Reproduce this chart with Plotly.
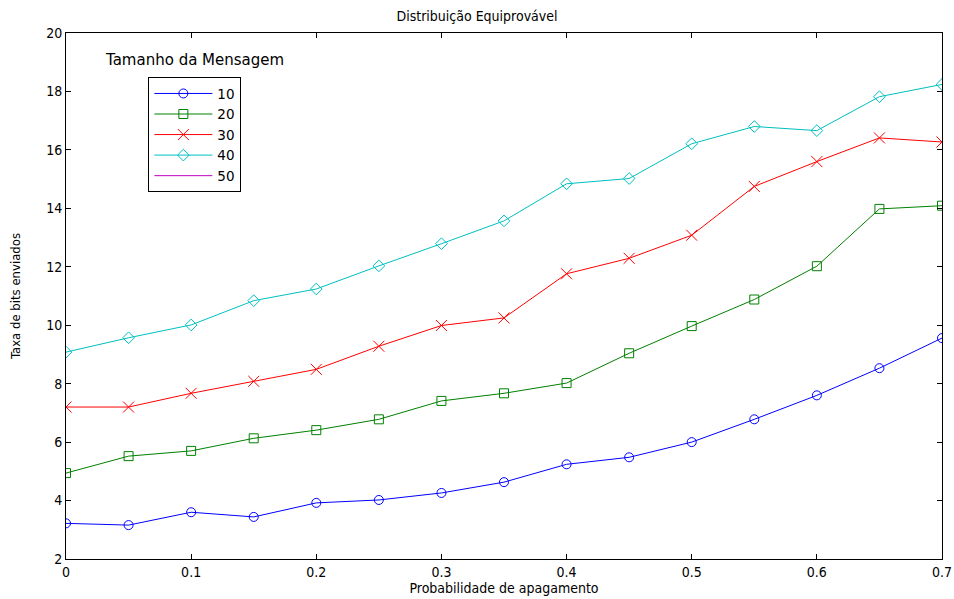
import plotly.graph_objects as go

# Probabilidade de apagamento (eixo x)
prob = [0.0, 0.05, 0.1, 0.15, 0.2, 0.25, 0.3, 0.35, 0.4, 0.45, 0.5, 0.55, 0.6, 0.65, 0.7]

# Taxa de bits enviados por tamanho de mensagem
taxa_10 = [3.22, 3.16, 3.60, 3.44, 3.92, 4.02, 4.26, 4.63, 5.24, 5.48, 6.00, 6.78, 7.60, 8.53, 9.56]
taxa_20 = [4.94, 5.52, 5.70, 6.13, 6.41, 6.78, 7.41, 7.67, 8.02, 9.04, 9.97, 10.88, 12.02, 13.98, 14.09]
taxa_30 = [7.20, 7.20, 7.67, 8.08, 8.49, 9.28, 9.99, 10.25, 11.76, 12.29, 13.08, 14.75, 15.60, 16.41, 16.27]
taxa_40 = [9.08, 9.57, 10.01, 10.84, 11.24, 12.03, 12.79, 13.57, 14.84, 15.02, 16.21, 16.80, 16.66, 17.82, 18.24]

mensagens = ["10", "20", "30", "40", "50"]
cores = ["#0000FF", "#008000", "#FF0000", "#00BFBF", "#BF00BF"]
simbolos = ["circle-open", "square-open", "x-thin-open", "diamond-open", None]
tamanhos = [9, 9, 11, 9, 0]
series = [taxa_10, taxa_20, taxa_30, taxa_40, None]

fig = go.Figure()
for nome, cor, simb, tam, ys in zip(mensagens, cores, simbolos, tamanhos, series):
    if ys is None:
        fig.add_trace(go.Scatter(x=[None], y=[None], mode="lines", name=nome,
                                 line=dict(color=cor, width=1)))
    else:
        fig.add_trace(go.Scatter(
            x=prob, y=ys, mode="lines+markers", name=nome,
            line=dict(color=cor, width=1),
            marker=dict(symbol=simb, size=tam, color=cor, line=dict(color=cor, width=1)),
        ))

narrow = "Liberation Sans Narrow, DejaVu Sans Condensed, Arial, sans-serif"
wide = "DejaVu Sans, Verdana, sans-serif"
axis_common = dict(
    showline=True, linecolor="black", linewidth=1, mirror="ticks",
    ticks="inside", ticklen=5, tickcolor="black", showgrid=False, zeroline=False,
    automargin=False,
    tickfont=dict(family=narrow, size=14, color="black"),
)

fig.update_layout(
    width=954, height=599,
    margin=dict(l=66, r=12, t=33, b=40),
    paper_bgcolor="white", plot_bgcolor="white",
    title=dict(text="Distribuição Equiprovável", x=0.5, xanchor="center",
               y=1 - 11 / 599, yanchor="top",
               font=dict(family=narrow, size=14, color="black")),
    xaxis=dict(range=[0, 0.7], tickvals=[0, 0.1, 0.2, 0.3, 0.4, 0.5, 0.6, 0.7],
               ticktext=["0", "0.1", "0.2", "0.3", "0.4", "0.5", "0.6", "0.7"],
               title=dict(text="Probabilidade de apagamento", standoff=4,
                          font=dict(family=narrow, size=14, color="black")),
               **axis_common),
    yaxis=dict(range=[2, 20], tickvals=list(range(2, 21, 2)),
               title=dict(text="Taxa de bits enviados", standoff=22,
                          font=dict(family=narrow, size=13, color="black")),
               **axis_common),
    legend=dict(x=0.094, y=0.916, xanchor="left", yanchor="top",
                bgcolor="white", bordercolor="black", borderwidth=1,
                itemwidth=58, tracegroupgap=0,
                font=dict(family=wide, size=13.5, color="black")),
    annotations=[dict(text="Tamanho da Mensagem", xref="paper", yref="paper",
                      x=(194 - 66) / 876, y=(559 - 60) / 526,
                      xanchor="center", yanchor="middle", showarrow=False,
                      font=dict(family=wide, size=15, color="black"))],
    showlegend=True,
)

fig.write_html("out.html")
